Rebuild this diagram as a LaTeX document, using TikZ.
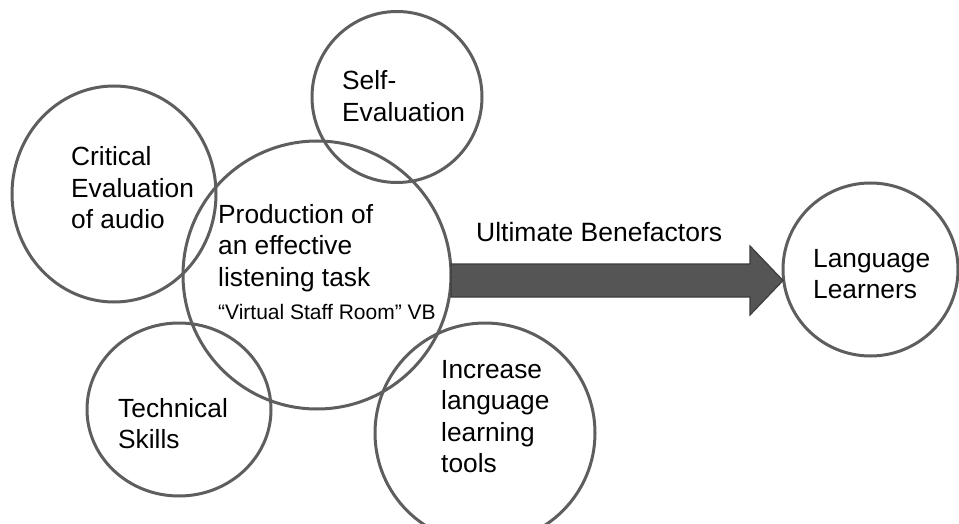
\documentclass[tikz,border=0pt]{standalone}
\usepackage{fontspec}
\setmainfont{Liberation Sans}
\usetikzlibrary{shapes.geometric}
\definecolor{ringgray}{HTML}{5E5E5E}
\definecolor{arrowfill}{HTML}{555555}
\definecolor{arrowedge}{HTML}{3C3C3C}
\newcommand{\stacktext}[1]{\begin{tabular}[t]{@{}l@{}}#1\end{tabular}}
\begin{document}
\begin{tikzpicture}[x=1pt,y=-1pt,
  ring/.style={ellipse, draw=ringgray, line width=3pt, inner sep=0pt, outer sep=0pt},
  lbl/.style={anchor=base west, inner sep=0pt, text=black, font=\fontsize{26.3}{31.5}\selectfont},
  smalllbl/.style={anchor=base west, inner sep=0pt, text=black, font=\fontsize{21}{25}\selectfont},
  arrowlbl/.style={anchor=base west, inner sep=0pt, text=black, font=\fontsize{26.5}{31}\selectfont},
  bigarrow/.style={fill=arrowfill, draw=arrowedge, line width=1.2pt, line join=miter}
]
\useasboundingbox (0,0) rectangle (959,524);
\fill[white] (0,0) rectangle (959,524);

% circles
\node[ring, minimum width=204pt, minimum height=216pt] (crit) at (114,194) {};
\node[ring, minimum width=170pt, minimum height=171pt] (self) at (397,97) {};
\node[ring, minimum width=268pt, minimum height=268pt] (prod) at (317,275) {};
\node[ring, minimum width=184pt, minimum height=173pt] (tech) at (179,409.5) {};
\node[ring, minimum width=220pt, minimum height=220pt] (incr) at (485,433) {};
\node[ring, minimum width=175pt, minimum height=173pt] (lang) at (870.5,269.5) {};

% arrow
\coordinate (atail) at (prod.east |- 0,280.5);
\coordinate (atip) at (lang.west |- atail);
\coordinate (hbase) at (750,280.5);
\draw[bigarrow] ([yshift=16.5pt]atail) -- ([yshift=16.5pt]hbase) -- ([yshift=34.5pt]hbase)
  -- (atip) -- ([yshift=-34.5pt]hbase) -- ([yshift=-16.5pt]hbase) -- ([yshift=-16.5pt]atail) -- cycle;

% texts
\node[arrowlbl] (ult) at (476,241) {Ultimate Benefactors};
\node[lbl] (selft) at (342,90) {\stacktext{Self-\\Evaluation}};
\node[lbl] (critt) at (71,166) {\stacktext{Critical\\Evaluation\\of audio}};
\node[lbl] (prodt) at (218,223) {\stacktext{Production of\\an effective\\listening task}};
\node[smalllbl] (vsr) at (218,319) {“Virtual Staff Room” VB};
\node[lbl] (techt) at (118,417) {\stacktext{Technical\\Skills}};
\node[lbl] (incrt) at (441,378) {\stacktext{Increase\\language\\learning\\tools}};
\node[lbl] (langt) at (813,267) {\stacktext{Language\\Learners}};
\end{tikzpicture}
\end{document}
